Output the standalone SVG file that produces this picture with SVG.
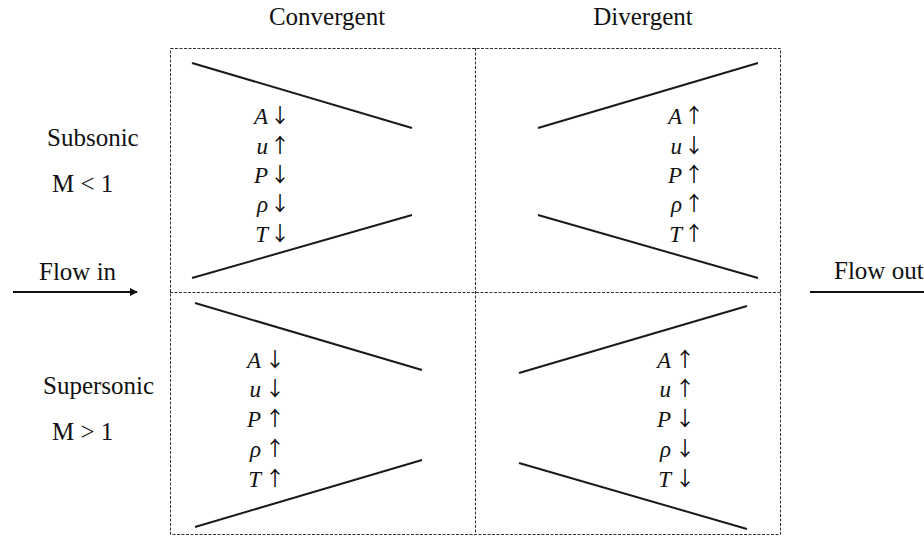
<svg xmlns="http://www.w3.org/2000/svg" width="924" height="536" viewBox="0 0 924 536">
<defs>
<style>
.w{stroke:#1a1a1a;stroke-width:2;fill:none}
.d{stroke:#333;stroke-width:1;stroke-dasharray:3 1.5;fill:none}
</style>
<marker id="ah" viewBox="0 0 10 10" refX="9" refY="5" markerWidth="8" markerHeight="8" markerUnits="userSpaceOnUse" orient="auto">
<path d="M0,0 L10,5 L0,10 z" fill="#111"/>
</marker>
</defs>
<rect width="924" height="536" fill="#fff"/>
<g id="frame">
<rect class="d" x="170.5" y="48.5" width="610" height="486"/>
<line class="d" x1="475.5" y1="48" x2="475.5" y2="535"/>
<line class="d" x1="170" y1="292.5" x2="781" y2="292.5"/>
</g>
<g font-family="Liberation Serif" font-size="25" fill="#111">
<g id="title-convergent"><text x="327" y="25" text-anchor="middle">Convergent</text></g>
<g id="title-divergent"><text x="643" y="25" text-anchor="middle">Divergent</text></g>
<g id="label-subsonic">
<text x="47" y="146">Subsonic</text>
<text x="52" y="192">M &lt; 1</text>
</g>
<g id="label-supersonic">
<text x="43" y="394">Supersonic</text>
<text x="52" y="440">M &gt; 1</text>
</g>
<g id="label-flow-in"><text x="39" y="280">Flow in</text></g>
<g id="label-flow-out"><text x="834" y="279">Flow out</text></g>
</g>
<g id="cell-subsonic-convergent">
<line class="w" x1="192" y1="63" x2="412" y2="128"/>
<line class="w" x1="192" y1="278" x2="412" y2="215"/>
<g font-family="Liberation Serif" font-style="italic" font-size="23" fill="#111" text-anchor="end">
<text x="268" y="124">A</text><text x="268" y="154">u</text><text x="268" y="183">P</text><text x="268" y="212">ρ</text><text x="268" y="242">T</text>
</g>
<g font-family="Noto Sans CJK SC" font-size="20" fill="#000" text-anchor="middle">
<text x="280" y="123">↓</text><text x="280" y="153">↑</text><text x="280" y="182">↓</text><text x="280" y="211">↓</text><text x="280" y="241">↓</text>
</g>
</g>
<g id="cell-subsonic-divergent">
<line class="w" x1="538" y1="128" x2="758" y2="63"/>
<line class="w" x1="538" y1="215" x2="758" y2="278"/>
<g font-family="Liberation Serif" font-style="italic" font-size="23" fill="#111" text-anchor="end">
<text x="682" y="124">A</text><text x="682" y="154">u</text><text x="682" y="183">P</text><text x="682" y="212">ρ</text><text x="682" y="242">T</text>
</g>
<g font-family="Noto Sans CJK SC" font-size="20" fill="#000" text-anchor="middle">
<text x="694" y="123">↑</text><text x="694" y="153">↓</text><text x="694" y="182">↑</text><text x="694" y="211">↑</text><text x="694" y="241">↑</text>
</g>
</g>
<g id="cell-supersonic-convergent">
<line class="w" x1="195" y1="303" x2="422" y2="370"/>
<line class="w" x1="195" y1="527" x2="422" y2="460"/>
<g font-family="Liberation Serif" font-style="italic" font-size="23" fill="#111" text-anchor="end">
<text x="261" y="368">A</text><text x="261" y="397">u</text><text x="261" y="427">P</text><text x="261" y="457">ρ</text><text x="261" y="487">T</text>
</g>
<g font-family="Noto Sans CJK SC" font-size="20" fill="#000" text-anchor="middle">
<text x="275" y="367">↓</text><text x="275" y="396">↓</text><text x="275" y="426">↑</text><text x="275" y="456">↑</text><text x="275" y="486">↑</text>
</g>
</g>
<g id="cell-supersonic-divergent">
<line class="w" x1="519" y1="373" x2="747" y2="306"/>
<line class="w" x1="519" y1="463" x2="747" y2="529"/>
<g font-family="Liberation Serif" font-style="italic" font-size="23" fill="#111" text-anchor="end">
<text x="671" y="368">A</text><text x="671" y="397">u</text><text x="671" y="427">P</text><text x="671" y="457">ρ</text><text x="671" y="487">T</text>
</g>
<g font-family="Noto Sans CJK SC" font-size="20" fill="#000" text-anchor="middle">
<text x="685" y="367">↑</text><text x="685" y="396">↑</text><text x="685" y="426">↓</text><text x="685" y="456">↓</text><text x="685" y="486">↓</text>
</g>
</g>
<g id="connectors">
<line x1="13" y1="292" x2="137" y2="292" stroke="#111" stroke-width="2" marker-end="url(#ah)"/>
<line x1="810" y1="292" x2="924" y2="292" stroke="#111" stroke-width="2"/>
</g>
</svg>
